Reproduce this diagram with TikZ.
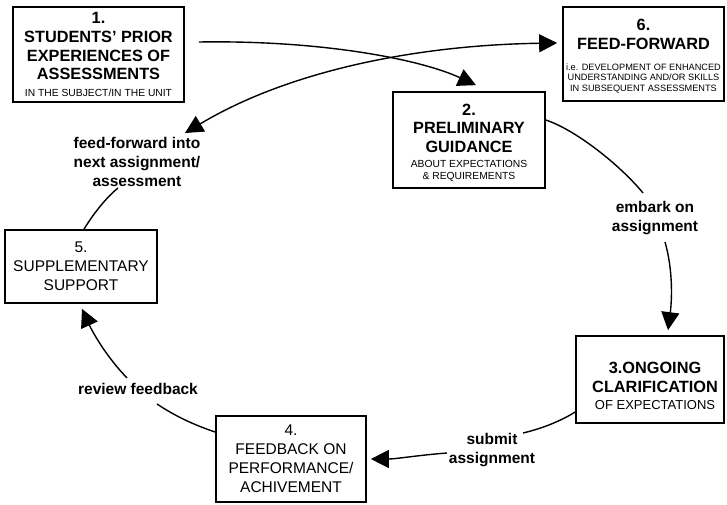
\documentclass[tikz,border=0pt]{standalone}
\usepackage{fontspec}
\setmainfont{Liberation Sans}
\usetikzlibrary{arrows.meta,calc}

% type sizes used in the boxes and on the links
\newcommand\boxtitle{\fontsize{16.3}{18.7}\bfseries\selectfont}
\newcommand\boxbody{\fontsize{15.5}{19}\selectfont}
\newcommand\boxsmall{\fontsize{10.3}{11.5}\mdseries\selectfont}
\newcommand\boxtiny{\fontsize{9.2}{10}\mdseries\selectfont}
\newcommand\boxmid{\fontsize{13}{16}\mdseries\selectfont}
\newcommand\linktext{\fontsize{15.5}{19}\bfseries\selectfont}

\begin{document}
\begin{tikzpicture}[x=1pt,y=-1pt,
  stagebox/.style={draw, line width=1.7pt, align=center, inner sep=0pt},
  linklabel/.style={align=center, inner sep=0pt, font=\linktext},
  link/.style={line width=1.4pt},
  tip/.style={-{Triangle[length=18pt,width=18pt]}},
  twotips/.style={{Triangle[length=18pt,width=18pt]}-{Triangle[length=18pt,width=18pt]}}]

\useasboundingbox (0,0) rectangle (727,504);

% stages of the cycle
\node[stagebox, font=\boxtitle, minimum width=171pt, minimum height=95pt] (prior) at (98.5,54.5)
  {1.\\STUDENTS' PRIOR\\EXPERIENCES OF\\ASSESSMENTS\\[-2pt]\boxsmall IN THE SUBJECT/IN THE UNIT};
\node[stagebox, font=\boxtitle, minimum width=152pt, minimum height=96pt] (guide) at (469,140)
  {\rule{0pt}{17pt}2.\\PRELIMINARY\\GUIDANCE\\[-4pt]\boxsmall ABOUT EXPECTATIONS\\[-6pt]\boxsmall\& REQUIREMENTS};
\node[stagebox, font=\boxtitle, minimum width=148pt, minimum height=87pt] (clarify) at (650,379.5)
  {\hspace*{10pt}\rule{0pt}{24pt}3.ONGOING\\\hspace*{10pt}CLARIFICATION\\[-2pt]\hspace*{10pt}\boxmid OF EXPECTATIONS};
\node[stagebox, font=\boxbody, minimum width=150pt, minimum height=86pt] (feedback) at (291,459)
  {4.\\FEEDBACK ON\\PERFORMANCE/\\ACHIVEMENT};
\node[stagebox, font=\boxbody, minimum width=152pt, minimum height=73pt] (support) at (81,266.5)
  {5.\\SUPPLEMENTARY\\SUPPORT};
\node[stagebox, font=\boxtitle, minimum width=161pt, minimum height=94pt] (forward) at (643.5,54)
  {\rule{0pt}{16pt}6.\\FEED-FORWARD\\[2pt]\boxtiny i.e. DEVELOPMENT OF ENHANCED\\[-8pt]\boxtiny UNDERSTANDING AND/OR SKILLS\\[-8pt]\boxtiny IN SUBSEQUENT ASSESSMENTS};

% labels on the links
\node[linklabel] (ffl) at (137,162) {feed-forward into\\next assignment/\\assessment};
\node[linklabel] (embark) at (655,218) {embark on\\assignment};
\node[linklabel] (submit) at (492,450) {submit\\assignment};
\node[linklabel] (review) at (138,389) {review feedback};

% 1 -> 2
\draw[link, tip] ($(prior.east)+(14,-12.5)$)
  .. controls +(122,-2) and +(-56,-26) .. ($(guide.north)+(7,-6)$);
% feed-forward label <-> 6
\draw[link, twotips] ($(ffl.center)+(48,-29)$)
  .. controls +(105,-63) and +(-138,2) .. ($(forward.west)+(-5,-11)$);
% 2 -> embark on assignment -> 3
\draw[link] ($(guide.east)+(0,-20)$)
  .. controls +(30,10) and +(-23,-28) .. ($(embark.center)+(-12,-25)$);
\draw[link, tip] ($(embark.center)+(10,24)$)
  .. controls +(8,28) and +(4,-31) .. ($(clarify.north)+(18,-5)$);
% 3 -> submit assignment -> 4
\draw[link] ($(clarify.west)+(0,32.5)$)
  .. controls +(-16,10) and +(17,-4) .. ($(submit.center)+(31,-17)$);
\draw[link, tip] ($(submit.center)+(-45,3)$)
  .. controls +(-27,2) and +(25,0) .. ($(feedback.east)+(4,0)$);
% 4 -> review feedback -> 5
\draw[link] ($(feedback.west)+(0,-27)$)
  .. controls +(-21,-7) and +(18,12) .. ($(review.center)+(19,15)$);
\draw[link, tip] ($(review.center)+(-11,-11)$)
  .. controls +(-22,-23) and +(10,22) .. ($(support.south)+(1,5)$);
% 5 -> feed-forward label
\draw[link] ($(support.north)+(3,0)$)
  .. controls +(11,-18) and +(-10,8) .. ($(ffl.center)+(-19,26)$);

\end{tikzpicture}
\end{document}
